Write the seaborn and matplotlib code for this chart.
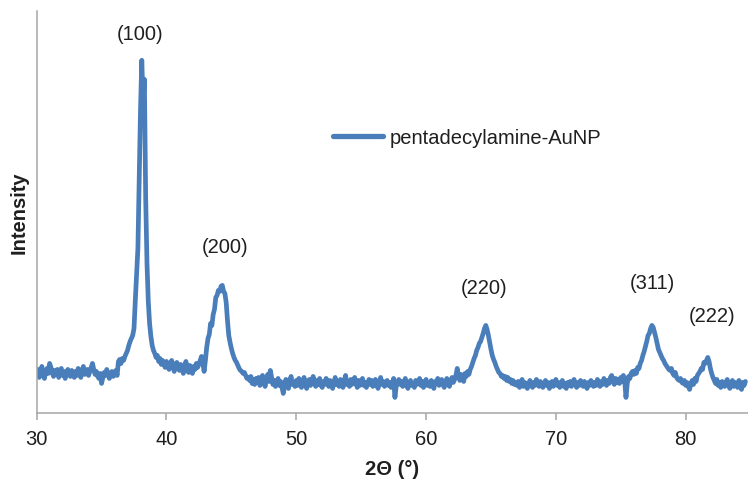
import numpy as np
import pandas as pd
import matplotlib
matplotlib.use("Agg")
import matplotlib.pyplot as plt
import seaborn as sns

# XRD pattern of pentadecylamine-capped gold nanoparticles
# 2θ sampled every 0.1° starting at 30.0°
two_theta_start = 30.0
two_theta_step = 0.1

intensity = [
    # 30.0 - 36.9
    38, 44, 36, 41, 47, 39, 35, 42, 45, 40,
    50, 46, 41, 37, 43, 39, 44, 36, 40, 45,
    38, 42, 35, 40, 44, 39, 37, 43, 41, 36,
    42, 38, 45, 40, 36, 43, 47, 39, 41, 44,
    38, 42, 46, 50, 44, 39, 42, 37, 35, 40,
    30, 36, 41, 38, 44, 40, 35, 39, 42, 37,
    40, 43, 38, 52, 54, 50, 55, 53, 57, 60,
    # 37.0 - 38.9  (100)
    63, 68, 72, 75, 78, 85, 113, 138, 165, 233,
    303, 353, 312, 334, 215, 150, 112, 90, 77, 68,
    # 39.0 - 42.9
    63, 60, 56, 58, 52, 55, 49, 53, 50, 46,
    52, 48, 44, 50, 53, 47, 42, 49, 51, 45,
    43, 49, 46, 40, 47, 52, 44, 41, 48, 45,
    40, 47, 44, 50, 46, 49, 53, 57, 51, 42,
    # 43.0 - 46.9  (200)
    53, 66, 75, 79, 90, 88, 99, 104, 116, 118,
    123, 122, 127, 128, 122, 120, 111, 93, 78, 71,
    65, 60, 56, 53, 51, 48, 45, 43, 42, 40,
    41, 38, 35, 36, 33, 37, 30, 34, 29, 35,
    # 47.0 - 62.9
    31, 36, 28, 33, 38, 30, 27, 34, 39, 32,
    43, 36, 29, 33, 27, 31, 35, 28, 32, 26,
    20, 29, 34, 30, 25, 33, 37, 29, 31, 27,
    33, 28, 35, 30, 26, 32, 36, 29, 25, 31,
    34, 28, 31, 37, 30, 27, 33, 29, 35, 28,
    26, 32, 29, 35, 31, 27, 33, 30, 25, 31,
    36, 29, 32, 27, 34, 30, 26, 33, 38, 29,
    31, 27, 34, 29, 32, 36, 30, 26, 33, 28,
    32, 35, 28, 31, 26, 30, 34, 29, 33, 27,
    30, 34, 28, 25, 31, 36, 29, 32, 27, 30,
    33, 28, 31, 26, 29, 35, 16, 27, 31, 34,
    29, 32, 27, 30, 35, 28, 25, 31, 33, 28,
    30, 26, 33, 29, 31, 35, 28, 32, 26, 30,
    34, 28, 31, 27, 33, 29, 25, 32, 30, 35,
    28, 31, 34, 29, 26, 32, 35, 30, 27, 33,
    36, 31, 34, 38, 45, 37, 33, 39, 35, 32,
    # 63.0 - 65.9  (220)
    40, 37, 42, 39, 44, 47, 51, 55, 58, 63,
    66, 70, 72, 76, 80, 85, 88, 84, 78, 71,
    64, 58, 54, 51, 47, 44, 41, 40, 37, 38,
    # 66.0 - 75.9
    35, 37, 33, 36, 32, 34, 30, 33, 29, 31,
    28, 32, 26, 30, 34, 27, 31, 29, 25, 30,
    33, 29, 26, 31, 28, 34, 30, 27, 32, 29,
    26, 30, 33, 28, 31, 25, 29, 32, 27, 30,
    34, 28, 31, 26, 29, 33, 27, 30, 25, 31,
    28, 32, 27, 30, 34, 29, 26, 31, 28, 33,
    30, 27, 32, 29, 25, 31, 28, 33, 30, 27,
    31, 28, 34, 30, 27, 32, 29, 35, 31, 28,
    33, 30, 36, 38, 32, 29, 35, 31, 34, 30,
    36, 32, 38, 33, 16, 30, 37, 35, 40, 42,
    # 76.0 - 79.9  (311)
    39, 43, 40, 46, 45, 50, 53, 58, 62, 67,
    72, 78, 80, 85, 88, 86, 81, 76, 70, 64,
    61, 58, 55, 53, 50, 48, 46, 44, 43, 45,
    40, 38, 41, 36, 34, 33, 35, 31, 30, 33,
    # 80.0 - 84.6  (222)
    28, 31, 27, 24, 30, 33, 29, 35, 32, 38,
    40, 42, 45, 44, 51, 50, 53, 56, 52, 45,
    40, 36, 33, 30, 34, 28, 31, 26, 32, 29,
    27, 31, 34, 28, 25, 30, 33, 27, 31, 29,
    26, 33, 29, 24, 31, 28, 32,
]

sample_name = "pentadecylamine-AuNP"
peak_labels = ["(100)", "(200)", "(220)", "(311)", "(222)"]
peak_label_x = [37.95, 44.5, 64.5, 77.4, 82.0]
peak_label_y = [379, 166, 125, 130, 97]

x_ticks = [30, 40, 50, 60, 70, 80]

two_theta = np.round(two_theta_start + two_theta_step * np.arange(len(intensity)), 1)
df = pd.DataFrame({"two_theta": two_theta, "intensity": intensity})

sns.set_style("white")
plt.rcParams["font.family"] = ["Liberation Sans", "DejaVu Sans"]

line_color = "#4A7EBB"
text_color = "#1F1F1F"
axis_color = "#A6A6A6"

fig = plt.figure(figsize=(7.48, 4.87), dpi=100)
ax = fig.add_axes([0.049, 0.151, 0.951, 0.826])

sns.lineplot(data=df, x="two_theta", y="intensity", ax=ax, color=line_color,
             linewidth=3.4, estimator=None, sort=False, label=sample_name)
for ln in ax.get_lines():
    ln.set_solid_joinstyle("round")
    ln.set_solid_capstyle("round")

ax.set_xlim(30, 84.8)
ax.set_ylim(0, 402)
ax.set_xticks(x_ticks)
ax.set_yticks([])

for side in ["top", "right"]:
    ax.spines[side].set_visible(False)
for side in ["left", "bottom"]:
    ax.spines[side].set_color(axis_color)
    ax.spines[side].set_linewidth(1.1)

ax.tick_params(axis="x", direction="out", length=5, width=1.1, color=axis_color,
               labelsize=14.5, labelcolor=text_color, pad=7, bottom=True)

ax.set_xlabel("2Θ (°)", fontsize=14.5, fontweight="bold", color=text_color, labelpad=8)
ax.set_ylabel("Intensity", fontsize=14.5, fontweight="bold", color=text_color)
ax.yaxis.label.set_va("center")
ax.yaxis.set_label_coords(-0.0249, 0.5)

for lab, lx, ly in zip(peak_labels, peak_label_x, peak_label_y):
    ax.text(lx, ly, lab, ha="center", va="center", fontsize=14.5, color=text_color)

leg = ax.legend(loc="center left", bbox_to_anchor=(333 / 748, 1 - 138 / 487),
                bbox_transform=fig.transFigure, frameon=False, fontsize=14.5,
                handlelength=2.5, handletextpad=0.33, borderpad=0, borderaxespad=0)
for t in leg.get_texts():
    t.set_color(text_color)
for h in leg.get_lines():
    h.set_linewidth(3.8)

fig.savefig("out.png", dpi=100)
